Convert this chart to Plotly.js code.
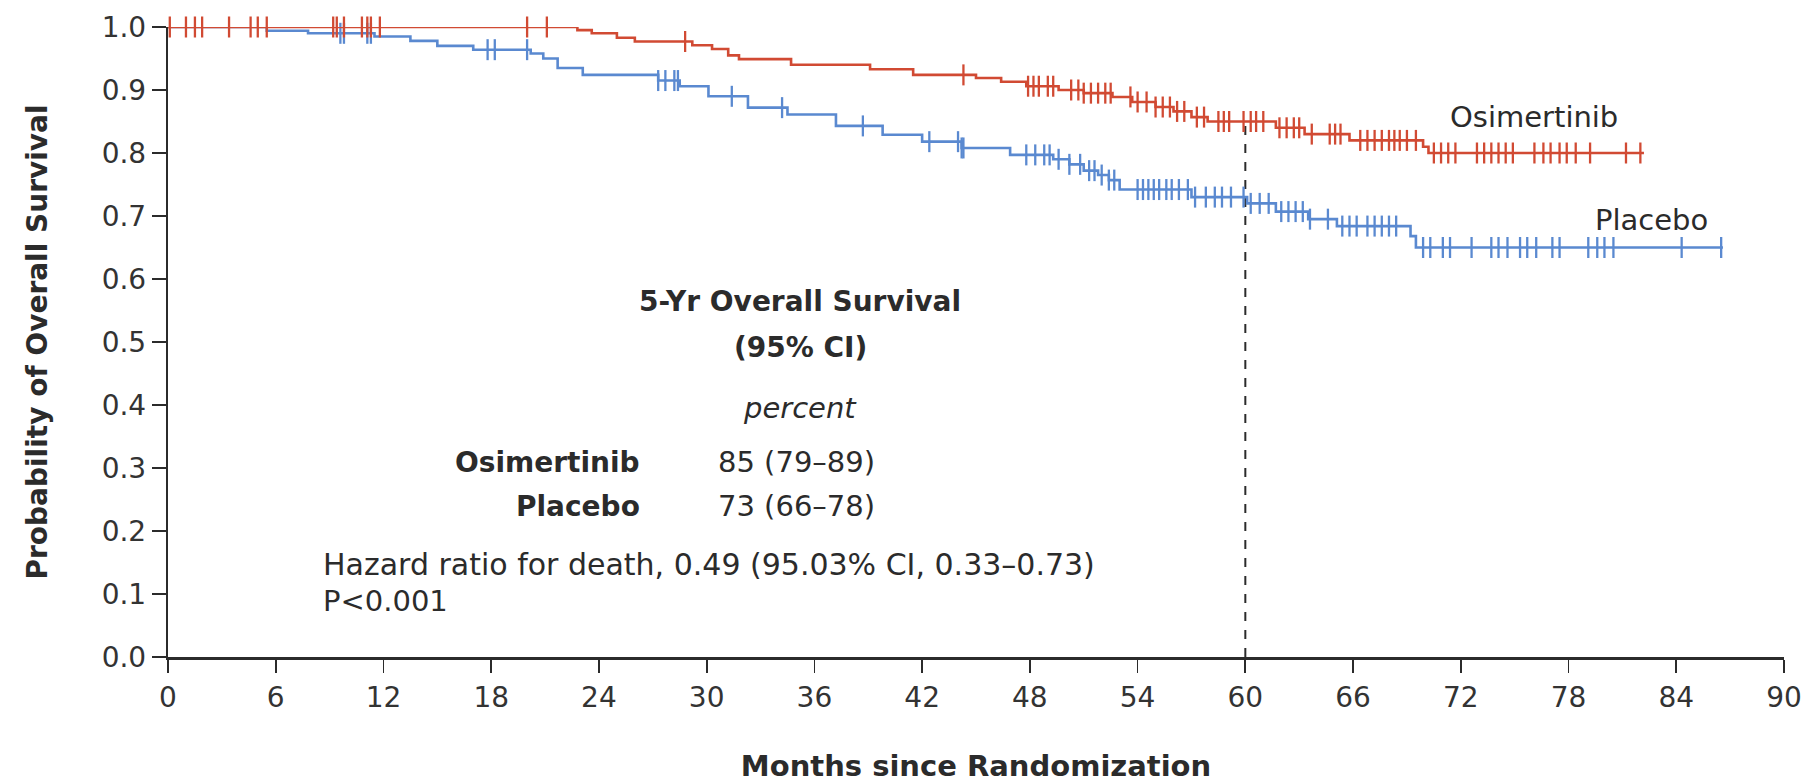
<!DOCTYPE html>
<html>
<head>
<meta charset="utf-8">
<script src="https://cdn.plot.ly/plotly-3.0.1.min.js"></script>
<style>
  html, body { margin: 0; padding: 0; background: #fff; }
  #chart { width: 1813px; height: 783px; }
</style>
</head>
<body>
<div id="chart"></div>
<script>
// Kaplan–Meier overall survival, osimertinib vs placebo
const monthTicks = [0, 6, 12, 18, 24, 30, 36, 42, 48, 54, 60, 66, 72, 78, 84, 90];
const probTicks = [0, 0.1, 0.2, 0.3, 0.4, 0.5, 0.6, 0.7, 0.8, 0.9, 1.0];

// Osimertinib: event times (months) and survival probability after each step
const osiTimes = [0, 22.8, 23.6, 25.0, 26.0, 29.2, 30.3, 31.2, 31.8, 34.7, 39.1, 41.5, 45.0, 46.4,
  47.8, 49.6, 51.0, 52.6, 53.7, 55.0, 56.0, 57.0, 57.9, 61.7, 63.3, 65.8, 69.9, 70.2];
const osiSurv = [1.0, 0.995, 0.990, 0.983, 0.977, 0.971, 0.965, 0.955, 0.949, 0.940, 0.933, 0.924, 0.919, 0.913,
  0.906, 0.900, 0.895, 0.889, 0.881, 0.873, 0.866, 0.857, 0.850, 0.840, 0.830, 0.820, 0.810, 0.800];
const osiEnd = 82.2;
const osiCensor = [0.1, 1.0, 1.5, 1.9, 3.4, 4.6, 5.0, 5.5, 9.2, 9.4, 9.8, 10.8, 11.1, 11.3, 11.8, 20.0, 21.1,
  28.8, 44.3, 47.9, 48.2, 48.5, 49.0, 49.3, 50.3, 50.7, 51.0, 51.4, 51.8, 52.2, 52.5,
  53.6, 54.0, 54.5, 55.0, 55.4, 55.8, 56.2, 56.6, 57.3, 57.7, 58.5, 58.8, 59.1, 59.9, 60.3, 60.6, 61.0,
  61.9, 62.3, 62.7, 63.0, 63.7, 64.7, 65.0, 65.3, 66.4, 66.8, 67.2, 67.6, 68.0, 68.3, 68.6, 69.0, 69.5,
  70.5, 70.9, 71.3, 71.7, 72.9, 73.3, 73.7, 74.1, 74.5, 74.9, 76.1, 76.6, 77.0, 77.5, 77.9, 78.4, 79.2,
  81.2, 82.0];

// Placebo
const plaTimes = [0, 5.5, 7.8, 11.5, 13.5, 15.0, 17.0, 20.2, 20.9, 21.7, 23.1, 27.3, 28.5, 30.1, 32.3,
  34.5, 37.2, 39.8, 42.0, 44.2, 46.9, 49.3, 50.2, 51.0, 51.8, 52.4, 53.0, 57.0, 60.1, 61.7, 63.5, 65.1,
  69.2, 69.5];
const plaSurv = [1.0, 0.994, 0.990, 0.985, 0.978, 0.970, 0.964, 0.958, 0.950, 0.935, 0.924, 0.915, 0.906,
  0.890, 0.872, 0.861, 0.843, 0.829, 0.818, 0.808, 0.797, 0.790, 0.782, 0.772, 0.765, 0.757, 0.742, 0.730,
  0.720, 0.707, 0.695, 0.684, 0.668, 0.650];
const plaEnd = 86.6;
const plaCensor = [9.6, 9.8, 11.1, 11.3, 17.8, 18.2, 20.0, 27.3, 27.7, 28.2, 28.4, 31.4, 34.2, 38.7, 42.4,
  44.0, 44.2, 44.3, 47.8, 48.3, 48.8, 49.1, 49.6, 50.2, 50.8, 51.3, 51.6, 52.0, 52.4, 52.7,
  54.0, 54.3, 54.6, 54.9, 55.2, 55.6, 55.9, 56.3, 56.8, 57.2, 57.8, 58.3, 58.7, 59.2, 59.9, 60.3, 60.8,
  61.3, 62.0, 62.4, 62.8, 63.2, 63.6, 64.6, 65.4, 65.8, 66.2, 66.8, 67.2, 67.6, 68.0, 68.4,
  69.9, 70.3, 71.0, 71.4, 72.6, 73.7, 74.1, 74.6, 75.3, 75.7, 76.2, 77.1, 77.5, 79.1, 79.6, 80.0, 80.5,
  84.3, 86.5];

// 5-year summary table
const groups = ['Osimertinib', 'Placebo'];
const fiveYrOS = [85, 73];
const ciLow = [79, 66];
const ciHigh = [89, 78];
const landmarkMonth = 60;
const hazardText = 'Hazard ratio for death, 0.49 (95.03% CI, 0.33\u20130.73)';
const pText = 'P<0.001';

const RED = '#d14a33';
const BLUE = '#5a89d0';
const INK = '#2b2b2b';
const FONT = '"DejaVu Sans", Verdana, sans-serif';

function survAt(times, surv, t) {
  let s = surv[0];
  for (let i = 0; i < times.length; i++) { if (times[i] <= t) s = surv[i]; }
  return s;
}

function curve(times, surv, end, color) {
  return {
    x: times.concat([end]), y: surv.concat([surv[surv.length - 1]]),
    mode: 'lines', line: { shape: 'hv', color: color, width: 2.6 },
    hoverinfo: 'skip', cliponaxis: false, showlegend: false
  };
}
function censors(times, surv, cens, color) {
  return {
    x: cens, y: cens.map(t => survAt(times, surv, t)),
    mode: 'markers',
    marker: { symbol: 'line-ns', size: 15, line: { color: color, width: 2.3 } },
    hoverinfo: 'skip', cliponaxis: false, showlegend: false
  };
}

const data = [
  curve(plaTimes, plaSurv, plaEnd, BLUE),
  censors(plaTimes, plaSurv, plaCensor, BLUE),
  curve(osiTimes, osiSurv, osiEnd, RED),
  censors(osiTimes, osiSurv, osiCensor, RED)
];

const txt = (x, y, text, opts) => Object.assign({
  x: x, y: y, xref: 'x', yref: 'y', text: text, showarrow: false,
  font: { family: FONT, size: 29, color: INK }, xanchor: 'center', yanchor: 'middle'
}, opts || {});
const boldFont = { family: FONT, size: 28, color: INK };

const annotations = [
  txt(35.2, 0.565, '<b>5-Yr Overall Survival</b>', { font: boldFont }),
  txt(35.2, 0.491, '<b>(95% CI)</b>', { font: boldFont }),
  txt(35.2, 0.396, '<i>percent</i>'),
  txt(26.4, 0.309, '<b>' + groups[0] + '</b>', { xanchor: 'right', font: boldFont }),
  txt(26.4, 0.239, '<b>' + groups[1] + '</b>', { xanchor: 'right', font: boldFont }),
  txt(30.5, 0.309, fiveYrOS[0] + ' (' + ciLow[0] + '\u2013' + ciHigh[0] + ')', { xanchor: 'left' }),
  txt(30.5, 0.239, fiveYrOS[1] + ' (' + ciLow[1] + '\u2013' + ciHigh[1] + ')', { xanchor: 'left' }),
  txt(8.5, 0.147, hazardText, { xanchor: 'left', font: { family: FONT, size: 30, color: INK } }),
  txt(8.5, 0.089, pText, { xanchor: 'left' }),
  txt(76.1, 0.857, groups[0]),
  txt(82.6, 0.694, groups[1])
];

const layout = {
  width: 1813, height: 783,
  margin: { l: 168, r: 29, t: 27, b: 126 },
  paper_bgcolor: '#fff', plot_bgcolor: '#fff',
  font: { family: FONT, color: INK },
  xaxis: {
    range: [0, 90], tickvals: monthTicks, ticktext: monthTicks.map(String),
    ticks: 'outside', ticklen: 13, tickwidth: 1.8, tickcolor: INK,
    showline: true, linecolor: INK, linewidth: 2.8, showgrid: false, zeroline: false,
    tickfont: { family: FONT, size: 28, color: '#333' }, ticklabelstandoff: 1,
    title: { text: '<b>Months since Randomization</b>', font: { family: FONT, size: 29, color: INK }, standoff: 46 },
    fixedrange: true
  },
  yaxis: {
    range: [0, 1.0], tickvals: probTicks, ticktext: probTicks.map(v => v.toFixed(1)),
    ticks: 'outside', ticklen: 14, tickwidth: 1.8, tickcolor: INK,
    showline: true, linecolor: INK, linewidth: 2.2, showgrid: false, zeroline: false,
    tickfont: { family: FONT, size: 28, color: '#333' },
    title: { text: '<b>Probability of Overall Survival</b>', font: { family: FONT, size: 28, color: INK }, standoff: 46 },
    fixedrange: true
  },
  shapes: [{
    type: 'line', xref: 'x', yref: 'y', x0: landmarkMonth, x1: landmarkMonth,
    y0: 0, y1: fiveYrOS[0] / 100, line: { color: INK, width: 2, dash: 'dash' }, layer: 'below'
  }],
  annotations: annotations,
  showlegend: false
};

Plotly.newPlot('chart', data, layout, { displayModeBar: false, staticPlot: true });
</script>
</body>
</html>
